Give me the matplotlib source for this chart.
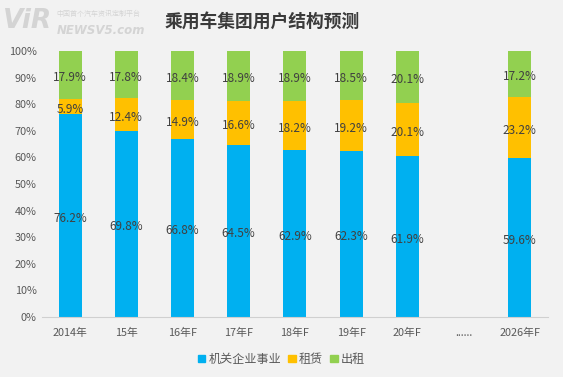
import matplotlib
matplotlib.use("Agg")
import matplotlib.pyplot as plt
import numpy as np

plt.rcParams['font.family'] = ['Noto Sans CJK SC', 'DejaVu Sans']

categories = ["2014年", "15年", "16年F", "17年F", "18年F", "19年F", "20年F", "......", "2026年F"]
gov = [76.2, 69.8, 66.8, 64.5, 62.9, 62.3, 61.9, None, 59.6]
lease = [5.9, 12.4, 14.9, 16.6, 18.2, 19.2, 20.1, None, 23.2]
taxi = [17.9, 17.8, 18.4, 18.9, 18.9, 18.5, 20.1, None, 17.2]
series_names = ["机关企业事业", "租赁", "出租"]
colors = ["#00B0F0", "#FFC000", "#92D050"]
yticks = [0, 10, 20, 30, 40, 50, 60, 70, 80, 90, 100]

bg = "#F2F2F2"
fig = plt.figure(figsize=(5.63, 3.77), dpi=100, facecolor=bg)
ax = fig.add_axes([0.0746, 0.159, 0.8984, 0.706], facecolor=bg)

x = np.arange(len(categories))
width = 0.41
handles = []
for i, c in enumerate(categories):
    if gov[i] is None:
        continue
    vals = [gov[i], lease[i], taxi[i]]
    tot = sum(vals)
    bottom = 0.0
    for k, v in enumerate(vals):
        h = v / tot * 100
        ax.bar(x[i], h, width, bottom=bottom, color=colors[k], linewidth=0)
        ax.text(x[i], bottom + h / 2 - 1.0, f"{v:.1f}%", ha="center", va="center",
                fontsize=8.5, color="#404040")
        bottom += h

for k, name in enumerate(series_names):
    handles.append(plt.Rectangle((0, 0), 1, 1, color=colors[k], label=name))

ax.set_xlim(-0.5, len(categories) - 0.5)
ax.set_ylim(0, 100)
ax.set_yticks(yticks)
ax.set_yticklabels([f"{t}%" for t in yticks])
ax.set_xticks(x)
ax.set_xticklabels(categories)
ax.tick_params(axis="both", length=0, labelsize=7.8, colors="#595959")
ax.tick_params(axis="x", pad=8)
ax.tick_params(axis="y", pad=4)
for s in ["top", "right", "left"]:
    ax.spines[s].set_visible(False)
ax.spines["bottom"].set_color("#D0D0D0")

fig.legend(handles=handles, loc="center", bbox_to_anchor=(0.5, 0.047), ncol=3,
           frameon=False, fontsize=8.7, handlelength=0.6, handleheight=0.6,
           handletextpad=0.25, columnspacing=0.6, labelcolor="#595959")

fig.text(0.466, 0.94, "乘用车集团用户结构预测", ha="center", va="center",
         fontsize=12.8, fontweight="bold", color="#3A3A3A")

# watermark
fig.text(0.006, 0.945, "ViR", ha="left", va="center", fontsize=19, style="italic",
         color="#D4D4D4", fontweight="bold", family="DejaVu Sans")
fig.text(0.1, 0.918, "NEWSV5.com", ha="left", va="center", fontsize=8.5, style="italic",
         color="#D4D4D4", fontweight="bold", family="DejaVu Sans")
fig.text(0.1, 0.963, "中国首个汽车资讯定制平台", ha="left", va="center", fontsize=5,
         color="#D4D4D4")

fig.savefig("out.png", dpi=100, facecolor=bg)
